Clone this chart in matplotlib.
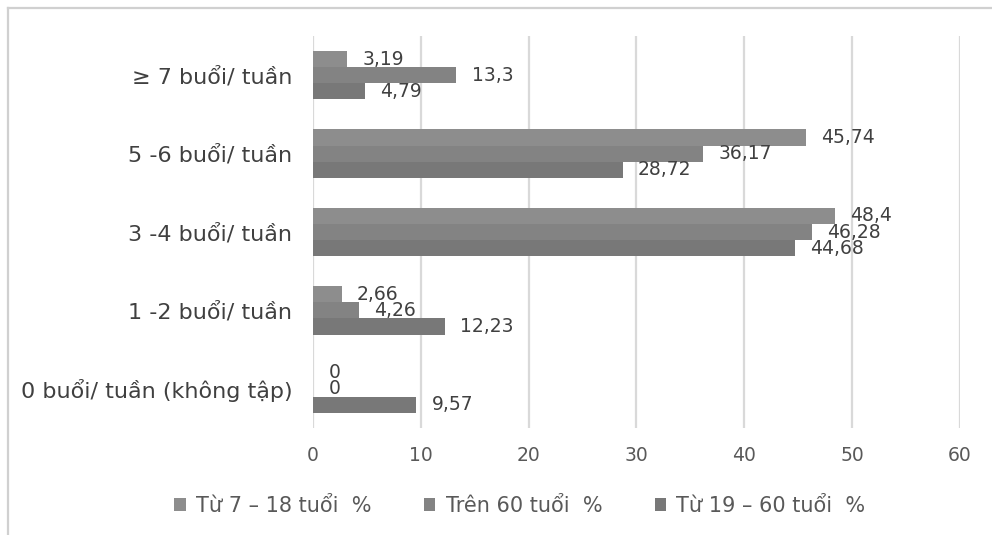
import matplotlib
matplotlib.use("Agg")
import matplotlib.pyplot as plt
from matplotlib.lines import Line2D
import numpy as np

categories = ["≥ 7 buổi/ tuần", "5 -6 buổi/ tuần", "3 -4 buổi/ tuần",
              "1 -2 buổi/ tuần", "0 buổi/ tuần (không tập)"]
series_names = ["Từ 7 – 18 tuổi  %", "Trên 60 tuổi  %", "Từ 19 – 60 tuổi  %"]
tu_7_18 = [3.19, 45.74, 48.4, 2.66, 0]
tren_60 = [13.3, 36.17, 46.28, 4.26, 0]
tu_19_60 = [4.79, 28.72, 44.68, 12.23, 9.57]
x_ticks = [0, 10, 20, 30, 40, 50, 60]

colors = ["#8d8d8d", "#838383", "#787878"]
bar_h = 0.205

fig = plt.figure(figsize=(9.92, 5.35), dpi=100)
ax = fig.add_axes([0.3155, 0.2, 0.6522, 0.7327])

y = np.arange(len(categories))
bars = []
for i, (vals, name) in enumerate(zip([tu_7_18, tren_60, tu_19_60], series_names)):
    pos = y + (i - 1) * bar_h
    b = ax.barh(pos, vals, height=bar_h, color=colors[i], label=name, zorder=3)
    bars.append(b)
    for p, v in zip(pos, vals):
        txt = ("%g" % v).replace(".", ",")
        ax.annotate(txt, (v, p), xytext=(11, 0), textcoords="offset points",
                    va="center", ha="left", fontsize=13.5, color="#404040",
                    family="DejaVu Sans", zorder=4)

ax.set_ylim(len(categories) - 0.5, -0.5)
ax.set_xlim(0, 60)
ax.set_xticks(x_ticks)
ax.set_yticks(y)
ax.set_yticklabels(categories, family="DejaVu Sans", fontsize=16, color="#404040")
for lbl in ax.get_xticklabels():
    lbl.set_family("DejaVu Sans")
    lbl.set_fontsize(13.5)
    lbl.set_color("#595959")
ax.tick_params(axis="x", length=0, pad=13)
ax.tick_params(axis="y", length=0, pad=15)
ax.grid(axis="x", color="#d9d9d9", linewidth=1.6, zorder=0)
for s in ax.spines.values():
    s.set_visible(False)

leg = fig.legend(handles=bars, labels=series_names, loc="center",
                 bbox_to_anchor=(520 / 992, 1 - 506 / 535), ncol=3, frameon=False,
                 prop={"family": "DejaVu Sans", "size": 15},
                 handlelength=0.55, handleheight=0.55, handletextpad=0.5,
                 columnspacing=2.5)
for t in leg.get_texts():
    t.set_color("#595959")

# chart border (only top and left visible in the crop)
fig.add_artist(Line2D([8 / 992, 1], [1 - 8 / 535, 1 - 8 / 535],
                      transform=fig.transFigure, color="#d0d0d0", linewidth=1.6))
fig.add_artist(Line2D([8 / 992, 8 / 992], [0, 1 - 8 / 535],
                      transform=fig.transFigure, color="#d0d0d0", linewidth=1.6))

fig.savefig("out.png", dpi=100)
